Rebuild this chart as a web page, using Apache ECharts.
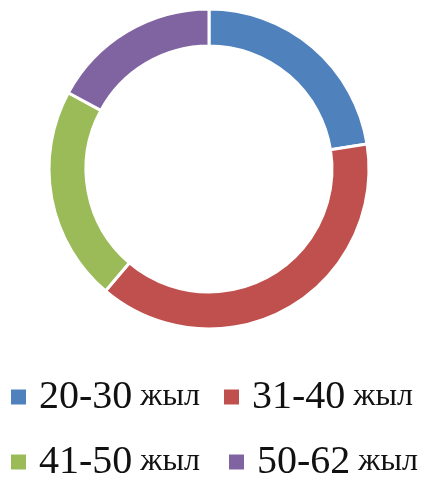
<!DOCTYPE html>
<html>
<head>
<meta charset="utf-8">
<script src="https://cdn.jsdelivr.net/npm/echarts@6/dist/echarts.min.js"></script>
<style>html,body{margin:0;padding:0;background:#fff;}#c{width:429px;height:481px;}</style>
</head>
<body>
<div id="c"></div>
<script>
var categories = ['20-30 жыл', '31-40 жыл', '41-50 жыл', '50-62 жыл'];
var values = [22.5, 38.7, 21.7, 17.1];
var colors = ['#4F81BD', '#C0504D', '#9BBB59', '#8064A2'];

var chart = echarts.init(document.getElementById('c'));
var legendPos = [[11, 377], [224, 377], [11, 442], [229, 442]];
var legends = categories.map(function (name, i) {
  return {
    data: [name],
    left: legendPos[i][0],
    top: legendPos[i][1],
    icon: 'rect',
    itemWidth: 15,
    itemHeight: 15,
    itemStyle: { borderWidth: 0 },
    padding: 0,
    selectedMode: false,
    formatter: function (n) {
      var parts = n.split(' ');
      return '{a|' + parts[0] + '}{b|' + parts[1] + '}';
    },
    textStyle: {
      rich: {
        a: { fontFamily: '"Liberation Serif", serif', fontSize: 40, color: '#111', lineHeight: 40, padding: [0, 8, 0, 8], verticalAlign: 'bottom' },
        b: { fontFamily: '"Liberation Serif", serif', fontSize: 32, color: '#111', lineHeight: 40, verticalAlign: 'bottom', padding: [0, 0, 4, 0] }
      }
    }
  };
});

chart.setOption({
  animation: false,
  color: colors,
  legend: legends,
  series: [{
    type: 'pie',
    center: [209, 169],
    radius: [123, 160],
    startAngle: 90,
    clockwise: true,
    label: { show: false },
    labelLine: { show: false },
    itemStyle: { borderColor: '#fff', borderWidth: 3 },
    data: categories.map(function (c, i) { return { name: c, value: values[i] }; })
  }]
});
</script>
</body>
</html>
